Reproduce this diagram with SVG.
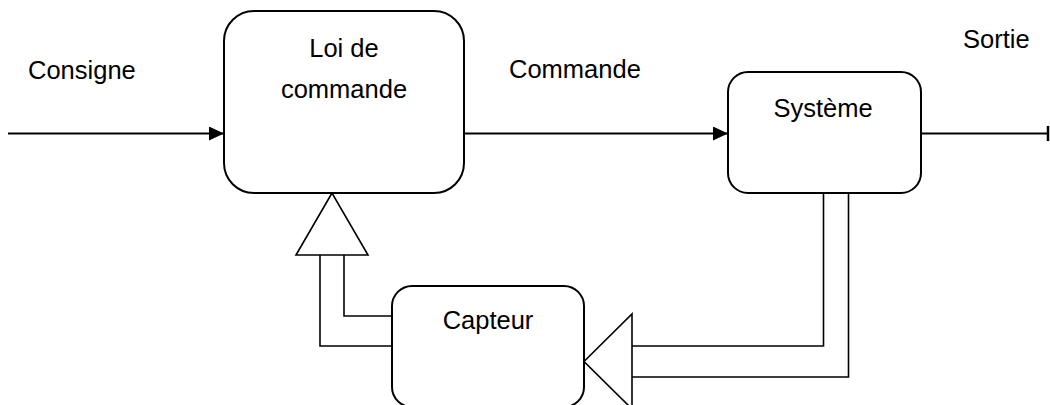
<svg xmlns="http://www.w3.org/2000/svg" width="1050" height="405" viewBox="0 0 1050 405">
<style>
.box{fill:#fff;stroke:#000;stroke-width:2}
.ln{fill:none;stroke:#000;stroke-width:2}
.fb{fill:none;stroke:#000;stroke-width:1.6}
.tri{fill:#fff;stroke:#000;stroke-width:1.6;stroke-linejoin:miter}
text{font-family:"Liberation Sans",Arial,sans-serif;font-size:25.5px;fill:#000}
.c{text-anchor:middle}
</style>
<defs>
<marker id="ah" markerWidth="16" markerHeight="14" refX="15" refY="7" orient="auto" markerUnits="userSpaceOnUse">
<path d="M0,0 L15,7 L0,14 Z" fill="#000"/>
</marker>
</defs>
<rect width="1050" height="405" fill="#fff"/>
<g id="connectors">
<line class="ln" x1="8" y1="133.5" x2="224" y2="133.5" marker-end="url(#ah)"/>
<line class="ln" x1="464" y1="133.5" x2="728" y2="133.5" marker-end="url(#ah)"/>
<line class="ln" x1="921" y1="133.5" x2="1048" y2="133.5"/>
<line x1="1048" y1="126" x2="1048" y2="141" stroke="#000" stroke-width="2.5"/>
<polyline class="fb" points="823.5,193 823.5,346 632,346"/>
<polyline class="fb" points="848.5,193 848.5,377 632,377"/>
<polygon class="tri" points="584,361.5 632,314 632,409"/>
<polyline class="fb" points="392,316 344,316 344,255"/>
<polyline class="fb" points="392,346 320,346 320,255"/>
<polygon class="tri" points="332,193 296,255 368,255"/>
</g>
<g id="loi">
<rect class="box" x="224" y="11" width="240" height="182" rx="30" ry="30"/>
<text class="c" x="344" y="57">Loi de</text>
<text class="c" x="344" y="98">commande</text>
</g>
<g id="systeme">
<rect class="box" x="728" y="72" width="193" height="121" rx="20" ry="20"/>
<text class="c" x="823" y="117">Système</text>
</g>
<g id="capteur">
<rect class="box" x="392" y="286" width="192" height="121" rx="20" ry="20"/>
<text class="c" x="488" y="329">Capteur</text>
</g>
<g id="labels">
<text x="28" y="79">Consigne</text>
<text x="509" y="78">Commande</text>
<text x="963" y="48">Sortie</text>
</g>
</svg>
